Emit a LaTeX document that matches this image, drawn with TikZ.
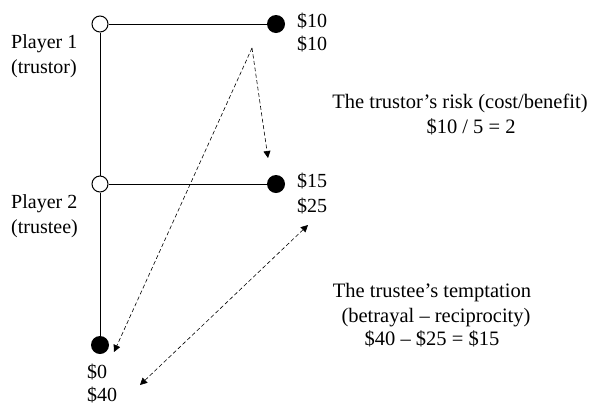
\documentclass[tikz,border=0pt]{standalone}
\usepackage{fontspec}
\setmainfont{Liberation Serif}
\usetikzlibrary{arrows.meta}
\begin{document}
\begin{tikzpicture}[x=1pt,y=-1pt,
  opennode/.style={circle,draw,fill=white,line width=1pt,minimum size=16pt,inner sep=0pt},
  fullnode/.style={circle,fill=black,minimum size=18pt,inner sep=0pt},
  edge/.style={line width=1pt},
  tip/.style={-{Triangle[length=7pt,width=7pt]}},
  dasharrow/.style={line width=0.6pt,dash pattern=on 4pt off 2.5pt},
  lbl/.style={font=\fontsize{20}{24}\selectfont,inner sep=0pt,anchor=base west},
  clbl/.style={font=\fontsize{20.5}{24}\selectfont,inner sep=0pt,anchor=base}]
\useasboundingbox (0,0) rectangle (596,405);
\node[opennode] (p1) at (100,24) {};
\node[fullnode] (e1) at (276,24) {};
\node[opennode] (p2) at (100,184) {};
\node[fullnode] (e2) at (276,184) {};
\node[fullnode] (e3) at (100,345) {};
\draw[edge] (p1) -- (e1);
\draw[edge] (p2) -- (e2);
\draw[edge] (p1) -- (p2);
\draw[edge] (p2) -- (e3);
\node[lbl] (t10a) at (297,27) {\$10};
\node[lbl] (t10b) at (297,50) {\$10};
\node[lbl] (t15) at (297,187) {\$15};
\node[lbl] (t25) at (297,212) {\$25};
\node[lbl] (t0) at (87,378) {\$0};
\node[lbl] (t40) at (87,401) {\$40};
\node[lbl] (pl1) at (11,48) {Player 1};
\node[lbl] (tr1) at (11,73) {(trustor)};
\node[lbl] (pl2) at (11,208) {Player 2};
\node[lbl] (tr2) at (11,233) {(trustee)};
\node[clbl] (risk) at (460,108) {The trustor’s risk (cost/benefit)};
\node[clbl] (riskv) at (471,133) {\$10 / 5 = 2};
\node[clbl] (tempt) at (432,297) {The trustee’s temptation};
\node[clbl] (tempt2) at (436,322) {(betrayal – reciprocity)};
\node[clbl] (tempt3) at (432,345) {\$40 – \$25 = \$15};
\coordinate (apex) at (252,48);
\coordinate (tip1) at (268,158);
\coordinate (tip2) at (114,352);
\coordinate (da) at (308,225);
\coordinate (db) at (140,385);
\draw[dasharrow,tip] (apex) -- (tip1);
\draw[dasharrow,tip] (apex) -- (tip2);
\draw[dasharrow,{Triangle[length=7pt,width=7pt]}-{Triangle[length=7pt,width=7pt]}] (db) -- (da);
\end{tikzpicture}
\end{document}
